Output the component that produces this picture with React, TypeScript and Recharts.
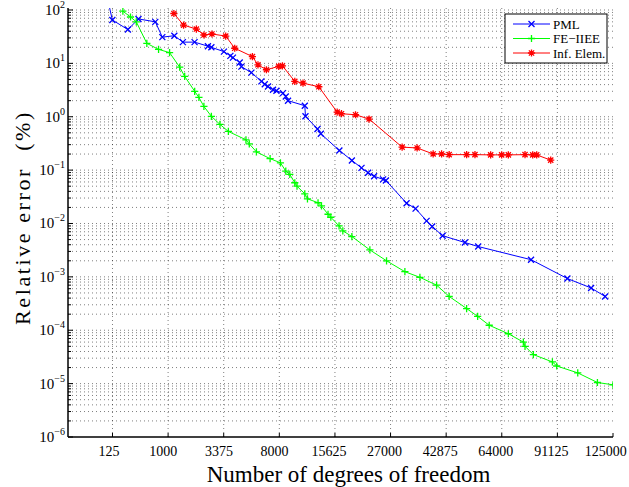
import React from 'react';
import { LineChart, Line, XAxis, YAxis, ReferenceLine } from 'recharts';

// x tick labels (degrees of freedom = n^3, axis is linear in n)
const xTickDof = [125, 1000, 3375, 8000, 15625, 27000, 42875, 64000, 91125, 125000];
const yDecadeExps = [-6, -5, -4, -3, -2, -1, 0, 1, 2];

const seriesNames = ['PML', 'FE\u2212IIEE', 'Inf. Elem.'];
const seriesColors = ['#0000ff', '#00ff00', '#ff0000'];

const pmlDof = [97, 124, 260, 395, 693, 852, 1178, 1454, 1897, 2504, 2680, 3389, 3796, 3967, 4443, 4566, 5350, 6219, 6529, 6837, 7335, 7692, 8403, 8716, 8973, 11075, 11165, 12862, 13363, 16387, 18652, 20548, 21905, 23198, 25231, 25882, 31078, 33542, 36727, 38409, 41709, 49390, 54354, 77471, 96703, 110800, 119750];
const pmlErr = [150, 65, 43, 68, 60, 31, 33, 25, 25, 21, 20, 16.6, 13.8, 12.8, 10.4, 8.7, 6.7, 4.6, 4.07, 3.69, 3.2, 3.07, 2.77, 2.4, 2.0, 1.61, 1.02, 0.59, 0.48, 0.233, 0.152, 0.110, 0.089, 0.077, 0.067, 0.064, 0.024, 0.019, 0.0112, 0.0088, 0.0059, 0.0044, 0.0037, 0.0021, 0.00093, 0.00062, 0.00043];

const feDof = [209, 290, 364, 529, 764, 1040, 1346, 1517, 1902, 2082, 2310, 2680, 3151, 3666, 4913, 5178, 5774, 7045, 8121, 8716, 9182, 9787, 10064, 11075, 11437, 12945, 13464, 14491, 14942, 16329, 16995, 18652, 22284, 26040, 30635, 34774, 39791, 43875, 49998, 54139, 58727, 66874, 73771, 74565, 78623, 88418, 90761, 102701, 114791, 125000];
const feErr = [95, 74, 60, 23.7, 18.3, 15.9, 8.5, 5.7, 3.0, 2.3, 1.56, 1.02, 0.72, 0.53, 0.37, 0.31, 0.22, 0.164, 0.137, 0.096, 0.083, 0.058, 0.050, 0.036, 0.029, 0.0245, 0.0213, 0.0149, 0.0131, 0.009, 0.0073, 0.0057, 0.0032, 0.0020, 0.00125, 0.00098, 0.00070, 0.00043, 0.000255, 0.000182, 0.000124, 0.000086, 0.000060, 0.000050, 0.000035, 0.0000255, 0.0000214, 0.0000159, 0.0000105, 0.0000095];

const infDof = [1164, 1478, 1972, 2310, 2709, 3498, 4088, 5433, 5910, 6687, 7940, 8341, 9787, 10838, 13061, 16003, 16757, 19357, 22117, 29906, 33980, 38717, 41386, 43875, 49999, 53115, 59319, 63952, 66874, 74565, 78293, 80286, 87528];
const infErr = [86, 52, 44, 34, 35.5, 32.5, 19.2, 13.4, 9.4, 7.6, 8.8, 9.0, 4.6, 4.26, 3.65, 1.22, 1.14, 1.09, 0.906, 0.27, 0.26, 0.201, 0.201, 0.195, 0.195, 0.195, 0.193, 0.193, 0.193, 0.195, 0.193, 0.193, 0.154];

const build = (dof: number[], err: number[]) => dof.map((d, i) => ({ x: Math.cbrt(d), dof: d, err: err[i] }));
const pmlData = build(pmlDof, pmlErr);
const feData = build(feDof, feErr);
const infData = build(infDof, infErr);

const xTicks = xTickDof.map((d) => Math.cbrt(d));
const yTicks: number[] = [];
yDecadeExps.forEach((e) => {
  for (let m = 1; m <= 9; m++) {
    if (e === 2 && m > 1) break;
    yTicks.push(m * Math.pow(10, e));
  }
});
const yMinor = yTicks.filter((v) => v > 1.5e-6);
const xGrid = xTicks.slice(0, xTicks.length - 1);

const FONT = '"Liberation Serif", serif';

const isDecade = (v: number) => Math.abs(Math.log10(v) - Math.round(Math.log10(v))) < 1e-9;

const LeftTick = (p: any) => {
  const { x, y, payload } = p;
  const v = payload.value;
  const major = isDecade(v);
  const e = Math.round(Math.log10(v));
  return (
    <g>
      <line x1={x} x2={x + (major ? 5 : 3)} y1={y} y2={y} stroke="#000" strokeWidth={1} />
      {major && (
        <text x={x - 3} y={y + 5} textAnchor="end" fontFamily={FONT} fontSize={15} fill="#000">
          10
          <tspan dy={-7} fontSize={10}>{e < 0 ? '\u2212' + Math.abs(e) : String(e)}</tspan>
        </text>
      )}
    </g>
  );
};

const RightTick = (p: any) => {
  const { x, y, payload } = p;
  const major = isDecade(payload.value);
  return <line x1={x} x2={x - (major ? 5 : 3)} y1={y} y2={y} stroke="#000" strokeWidth={1} />;
};

const BottomTick = (p: any) => {
  const { x, y, payload } = p;
  const label = String(Math.round(Math.pow(payload.value, 3)));
  const shift = -1.2 * label.length;
  return (
    <g>
      <line x1={x} x2={x} y1={y} y2={y - 4} stroke="#000" strokeWidth={1} />
      <text x={x + shift} y={y + 19} textAnchor="middle" fontFamily={FONT} fontSize={14} fill="#000">
        {label}
      </text>
    </g>
  );
};

const TopTick = (p: any) => {
  const { x, y } = p;
  return <line x1={x} x2={x} y1={y} y2={y + 4} stroke="#000" strokeWidth={1} />;
};

const markPath = (kind: number, cx: number, cy: number) => {
  const s = 3;
  const xm = `M${cx - s},${cy - s}L${cx + s},${cy + s}M${cx - s},${cy + s}L${cx + s},${cy - s}`;
  const p = 3.6;
  const pm = `M${cx - p},${cy}L${cx + p},${cy}M${cx},${cy - p}L${cx},${cy + p}`;
  const a = 2.6;
  const am = `M${cx - a},${cy - a}L${cx + a},${cy + a}M${cx - a},${cy + a}L${cx + a},${cy - a}`;
  if (kind === 0) return xm;
  if (kind === 1) return pm;
  return pm + am;
};

const makeDot = (kind: number) => (p: any) => {
  const key = `d-${kind}-${p.index}`;
  if (p.cx == null || p.cy == null || isNaN(p.cx) || isNaN(p.cy)) return <g key={key} />;
  return <path key={key} d={markPath(kind, p.cx, p.cy)} stroke={seriesColors[kind]} strokeWidth={1.3} fill="none" />;
};

const YLabel = (props: any) => {
  const vb = props.viewBox || { y: 8, height: 429 };
  const cy = vb.y + vb.height / 2 - 5;
  return (
    <text x={22} y={cy} transform={`rotate(-90, 22, ${cy})`} textAnchor="middle" dominantBaseline="central" fontFamily={FONT} fontSize={22} letterSpacing={2.6} fill="#000">
      {'Relative error\u00a0\u00a0(%)'}
    </text>
  );
};

const XLabel = (props: any) => {
  const vb = props.viewBox || { x: 68, width: 545, y: 437 };
  return (
    <text x={vb.x + vb.width / 2 + 8} y={vb.y + 45} textAnchor="middle" fontFamily={FONT} fontSize={23} fill="#000">
      Number of degrees of freedom
    </text>
  );
};

const gridStyle = { stroke: '#000', strokeOpacity: 0.5, strokeWidth: 1, strokeDasharray: '1 3' };

const LegendBox = () => (
  <svg width={104} height={51} style={{ position: 'absolute', left: 504, top: 13 }}>
    <rect x={1} y={1} width={102} height={49} fill="#fff" stroke="#000" strokeWidth={1} />
    {seriesNames.map((n, i) => {
      const cy = 11 + i * 14.5;
      return (
        <g key={n}>
          <line x1={9} x2={46} y1={cy} y2={cy} stroke={seriesColors[i]} strokeWidth={1} />
          <path d={markPath(i, 27.5, cy)} stroke={seriesColors[i]} strokeWidth={1.3} fill="none" />
          <text x={49} y={cy + 4.5} fontFamily={FONT} fontSize={13} fill="#000">{n}</text>
        </g>
      );
    })}
  </svg>
);

export default function App() {
  const datasets = [pmlData, feData, infData];
  return (
    <div style={{ position: 'absolute', left: 0, top: 0, width: 629, height: 487, background: '#fff' }}>
      <LineChart width={629} height={487} margin={{ top: 8, right: 16, bottom: 0, left: 0 }}>
        <XAxis
          xAxisId="b"
          type="number"
          dataKey="x"
          domain={[1, 50]}
          allowDataOverflow
          ticks={xTicks}
          interval={0}
          height={50}
          tickSize={0}
          tickMargin={0}
          tickLine={false}
          tick={(p: any) => <BottomTick {...p} />}
          axisLine={{ stroke: '#000', strokeWidth: 1.5 }}
          label={(p: any) => <XLabel {...p} />}
        />
        <XAxis
          xAxisId="t"
          orientation="top"
          type="number"
          domain={[1, 50]}
          allowDataOverflow
          ticks={xTicks}
          interval={0}
          height={0}
          tickSize={0}
          tickMargin={0}
          tickLine={false}
          tick={(p: any) => <TopTick {...p} />}
          axisLine={{ stroke: '#000', strokeWidth: 1.5 }}
        />
        <YAxis
          yAxisId="l"
          type="number"
          scale="log"
          domain={[1e-6, 109]}
          allowDataOverflow
          ticks={yTicks}
          interval={0}
          width={68}
          tickSize={0}
          tickMargin={0}
          tickLine={false}
          tick={(p: any) => <LeftTick {...p} />}
          axisLine={{ stroke: '#000', strokeWidth: 1.5 }}
          label={(p: any) => <YLabel {...p} />}
        />
        <YAxis
          yAxisId="r"
          orientation="right"
          type="number"
          scale="log"
          domain={[1e-6, 109]}
          allowDataOverflow
          ticks={yTicks}
          interval={0}
          width={0}
          tickSize={0}
          tickMargin={0}
          tickLine={false}
          tick={(p: any) => <RightTick {...p} />}
          axisLine={{ stroke: '#000', strokeWidth: 1.5 }}
        />
        {yMinor.map((v) => (
          <ReferenceLine key={`hy-${v}`} xAxisId="b" yAxisId="l" y={v} {...gridStyle} />
        ))}
        {xGrid.map((v) => (
          <ReferenceLine key={`vx-${v}`} xAxisId="b" yAxisId="l" x={v} {...gridStyle} />
        ))}
        {datasets.map((d, i) => (
          <Line
            key={seriesNames[i]}
            xAxisId="b"
            yAxisId="l"
            data={d}
            dataKey="err"
            name={seriesNames[i]}
            stroke={seriesColors[i]}
            strokeWidth={1}
            dot={makeDot(i)}
            activeDot={false}
            isAnimationActive={false}
          />
        ))}
      </LineChart>
      <LegendBox />
    </div>
  );
}
